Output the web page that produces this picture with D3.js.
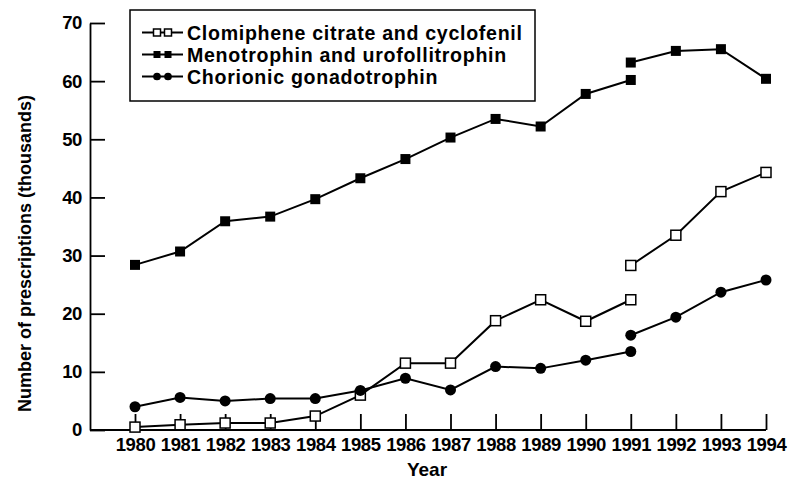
<!DOCTYPE html>
<html>
<head>
<meta charset="utf-8">
<script src="https://cdn.jsdelivr.net/npm/d3@7"></script>
<style>
body { margin: 0; background: #fff; }
svg { display: block; font-family: "Liberation Sans", Arial, sans-serif; }
.axis text { font-size: 18.5px; font-weight: bold; fill: #000; letter-spacing: -0.4px; }
.axis path, .axis line { stroke: #000; stroke-width: 1.8px; }
</style>
</head>
<body>
<div class="chart"></div>
<script>
// years before the 1991 break and after it
var yearsA = [1980, 1981, 1982, 1983, 1984, 1985, 1986, 1987, 1988, 1989, 1990, 1991];
var yearsB = [1991, 1992, 1993, 1994];
var tickYears = [1980, 1981, 1982, 1983, 1984, 1985, 1986, 1987, 1988, 1989, 1990, 1991, 1992, 1993, 1994];
var yTicks = [0, 10, 20, 30, 40, 50, 60, 70];

// thousands of prescriptions
var clomipheneA = [0.5, 0.9, 1.2, 1.2, 2.4, 6.0, 11.5, 11.5, 18.8, 22.4, 18.7, 22.4];
var clomipheneB = [28.3, 33.5, 41.0, 44.3];
var menotrophinA = [28.4, 30.7, 35.9, 36.7, 39.7, 43.3, 46.6, 50.3, 53.5, 52.2, 57.8, 60.2];
var menotrophinB = [63.2, 65.2, 65.5, 60.4];
var chorionicA = [4.0, 5.6, 5.0, 5.4, 5.4, 6.8, 8.9, 6.9, 10.9, 10.6, 12.0, 13.5];
var chorionicB = [16.3, 19.4, 23.7, 25.8];

var seriesNames = ["Clomiphene citrate and cyclofenil", "Menotrophin and urofollitrophin", "Chorionic gonadotrophin"];

var width = 789, height = 481;

var svg = d3.select(".chart").append("svg")
    .attr("width", width)
    .attr("height", height);

var x = d3.scaleLinear().domain([1980, 1994]).range([135, 766]);
var y = d3.scaleLinear().domain([0, 70]).range([430, 23]);

// y axis, ticks pointing in
svg.append("g")
    .attr("class", "axis")
    .attr("transform", "translate(90,0)")
    .call(d3.axisLeft(y).tickValues(yTicks).tickSizeInner(-15).tickSizeOuter(0).tickPadding(8));

// x axis, line starts at the y axis
var xg = svg.append("g")
    .attr("class", "axis")
    .attr("transform", "translate(0,430)")
    .call(d3.axisBottom(x).tickValues(tickYears).tickFormat(d3.format("d"))
        .tickSizeInner(-16).tickSizeOuter(0).tickPadding(8));
xg.select(".domain").remove();
xg.append("line")
    .attr("x1", 90).attr("x2", x(1994))
    .attr("stroke", "#000").attr("stroke-width", 1.8);

svg.append("text")
    .attr("transform", "translate(31,253.5) rotate(-90)")
    .attr("text-anchor", "middle")
    .style("font-size", "18px")
    .style("font-weight", "bold")
    .text("Number of prescriptions (thousands)");

svg.append("text")
    .attr("x", 427)
    .attr("y", 476)
    .attr("text-anchor", "middle")
    .style("font-size", "19px")
    .style("font-weight", "bold")
    .text("Year");

var line = d3.line()
    .x(function(d) { return x(d[0]); })
    .y(function(d) { return y(d[1]); });

var series = [
    {name: seriesNames[0], shape: "open", parts: [d3.zip(yearsA, clomipheneA), d3.zip(yearsB, clomipheneB)]},
    {name: seriesNames[1], shape: "square", parts: [d3.zip(yearsA, menotrophinA), d3.zip(yearsB, menotrophinB)]},
    {name: seriesNames[2], shape: "circle", parts: [d3.zip(yearsA, chorionicA), d3.zip(yearsB, chorionicB)]}
];

function drawMarker(g, shape, cx, cy, s) {
    if (shape == "circle") {
        g.append("circle").attr("cx", cx).attr("cy", cy).attr("r", s * 0.55).attr("fill", "#000");
    } else {
        g.append("rect")
            .attr("x", cx - s / 2).attr("y", cy - s / 2)
            .attr("width", s).attr("height", s)
            .attr("fill", shape == "open" ? "#fff" : "#000")
            .attr("stroke", "#000")
            .attr("stroke-width", shape == "open" ? 1.5 : 0);
    }
}

series.forEach(function(s) {
    var g = svg.append("g");
    s.parts.forEach(function(p) {
        g.append("path")
            .attr("d", line(p))
            .attr("fill", "none")
            .attr("stroke", "#000")
            .attr("stroke-width", 2);
    });
    s.parts.forEach(function(p) {
        p.forEach(function(d) {
            drawMarker(g, s.shape, x(d[0]), y(d[1]), 10);
        });
    });
});

// legend
var legend = svg.append("g");
legend.append("rect")
    .attr("x", 130).attr("y", 10)
    .attr("width", 405).attr("height", 91)
    .attr("fill", "#fff")
    .attr("stroke", "#000")
    .attr("stroke-width", 1.5);

series.forEach(function(s, i) {
    var ry = 32.5 + i * 22;
    legend.append("line")
        .attr("x1", 142).attr("x2", 183)
        .attr("y1", ry).attr("y2", ry)
        .attr("stroke", "#000").attr("stroke-width", 2);
    drawMarker(legend, s.shape, 157, ry, 7);
    drawMarker(legend, s.shape, 168, ry, 7);
    legend.append("text")
        .attr("x", 187)
        .attr("y", ry + 7.3)
        .style("font-size", "19.6px")
        .style("font-weight", "bold")
        .style("letter-spacing", "0.7px")
        .text(s.name);
});
</script>
</body>
</html>
